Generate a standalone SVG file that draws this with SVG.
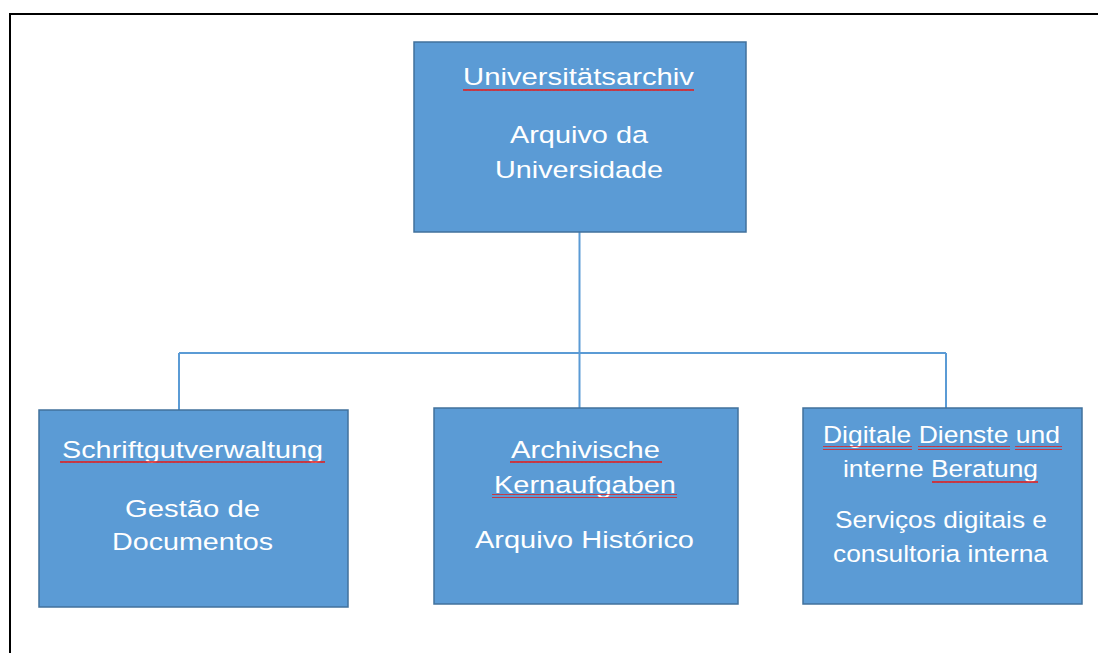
<svg xmlns="http://www.w3.org/2000/svg" width="1098" height="653" viewBox="0 0 1098 653">
<defs>
<style>
.box{fill:#5B9BD5;stroke:#41719C;stroke-width:1.5}
.t{font-family:"Liberation Sans",Arial,sans-serif;font-size:24.5px;fill:#FFFFFF;text-anchor:middle}
.conn{stroke:#5B9BD5;stroke-width:2;fill:none}
.sq{fill:url(#squig)}
</style>
<pattern id="squig" width="4" height="4" patternUnits="userSpaceOnUse">
<path d="M0,3 L1,1 L2,3 L3,1 L4,3" fill="none" stroke="#E02020" stroke-width="1"/>
</pattern>
</defs>
<rect width="1098" height="653" fill="#FFFFFF"/>
<path d="M10,660 V14 H1110" fill="none" stroke="#000000" stroke-width="2"/>
<g id="connectors">
<path class="conn" d="M579.5,232 V353"/>
<path class="conn" d="M179,353 H946"/>
<path class="conn" d="M179,353 V410"/>
<path class="conn" d="M579.5,353 V408"/>
<path class="conn" d="M946,353 V408"/>
</g>
<g id="node-top">
<rect class="box" x="414" y="42" width="332" height="190"/>
<text class="t" x="578.5" y="85" textLength="231" lengthAdjust="spacingAndGlyphs">Universitätsarchiv</text>
<rect class="sq" x="463" y="88" width="231" height="4"/>
<text class="t" x="579" y="143" textLength="138" lengthAdjust="spacingAndGlyphs">Arquivo da</text>
<text class="t" x="579" y="178" textLength="168" lengthAdjust="spacingAndGlyphs">Universidade</text>
</g>
<g id="node-left">
<rect class="box" x="39" y="410" width="309" height="197"/>
<text class="t" x="192.5" y="458" textLength="261" lengthAdjust="spacingAndGlyphs">Schriftgutverwaltung</text>
<rect class="sq" x="60" y="460" width="265" height="4"/>
<text class="t" x="192.5" y="517" textLength="135" lengthAdjust="spacingAndGlyphs">Gestão de</text>
<text class="t" x="192.5" y="550" textLength="161" lengthAdjust="spacingAndGlyphs">Documentos</text>
</g>
<g id="node-middle">
<rect class="box" x="434" y="408" width="304" height="196"/>
<text class="t" x="585.5" y="458" textLength="149" lengthAdjust="spacingAndGlyphs">Archivische</text>
<rect class="sq" x="510" y="459" width="152" height="4"/>
<text class="t" x="585" y="493" textLength="182" lengthAdjust="spacingAndGlyphs">Kernaufgaben</text>
<rect class="sq" x="492" y="494" width="185" height="4"/>
<text class="t" x="584.5" y="548" textLength="219" lengthAdjust="spacingAndGlyphs">Arquivo Histórico</text>
</g>
<g id="node-right">
<rect class="box" x="803" y="408" width="279" height="196"/>
<text class="t" x="941.5" y="443" textLength="237" lengthAdjust="spacingAndGlyphs">Digitale Dienste und</text>
<rect class="sq" x="823" y="446" width="89" height="4"/>
<rect class="sq" x="918" y="446" width="92" height="4"/>
<rect class="sq" x="1015" y="446" width="47" height="4"/>
<text class="t" x="940.5" y="477" textLength="195" lengthAdjust="spacingAndGlyphs">interne Beratung</text>
<rect class="sq" x="932" y="479" width="106" height="4"/>
<text class="t" x="941" y="528" textLength="212" lengthAdjust="spacingAndGlyphs">Serviços digitais e</text>
<text class="t" x="940.5" y="562" textLength="215" lengthAdjust="spacingAndGlyphs">consultoria interna</text>
</g>
</svg>
